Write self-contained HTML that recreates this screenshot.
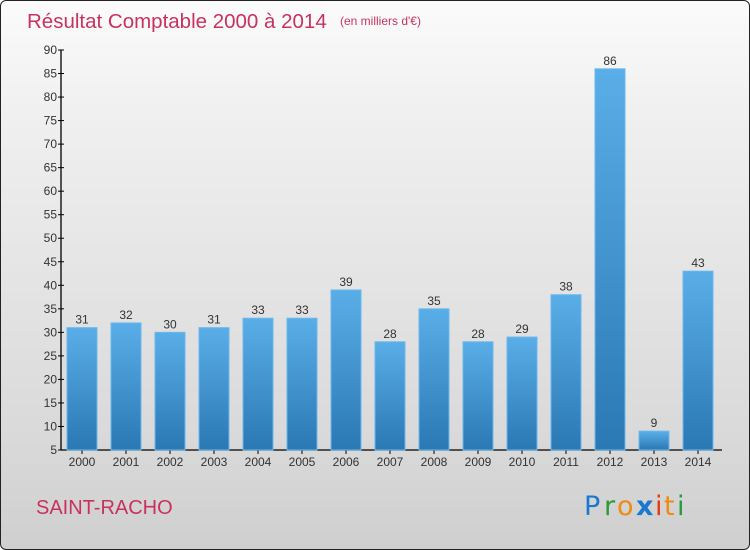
<!DOCTYPE html>
<html><head><meta charset="utf-8"><style>
body{margin:0;width:750px;height:550px;overflow:hidden;font-family:"Liberation Sans",sans-serif}
#frame{position:absolute;left:0;top:0;width:748px;height:548px;border:1px solid #222;border-radius:6px;background:linear-gradient(#fbfbfb,#f0f0f0 20%,#d9d9d9 80%,#cfcfcf)}
</style></head><body>
<div id="frame"></div>
<svg id="chart" width="750" height="550" style="position:absolute;left:0;top:0">
<defs><linearGradient id="bg" x1="0" y1="0" x2="0" y2="1"><stop offset="0" stop-color="#5aaee8"/><stop offset="1" stop-color="#2a78b4"/></linearGradient></defs>
<text x="27" y="28" font-size="20.5" fill="#c8325e">Résultat Comptable 2000 à 2014</text>
<text x="340" y="25" font-size="12" fill="#c8325e">(en milliers d'€)</text>
<text x="36" y="514" font-size="20" fill="#c8325e">SAINT-RACHO</text>
<g font-size="27" font-family="'DejaVu Sans',sans-serif">
<text x="584" y="515" fill="#1a78d0">P</text><text x="604" y="515" fill="#2a9a3a">r</text><text x="617" y="515" fill="#f08a10">o</text><text x="636" y="515" fill="#1a78d0" font-weight="bold">x</text><text x="655" y="515" fill="#e83a10">i</text><text x="664" y="515" fill="#f08a10">t</text><text x="677" y="515" fill="#2a9a3a">i</text>
</g>
<g id="axes"></g><g id="bars"></g>
</svg>
<script>
const years=["2000","2001","2002","2003","2004","2005","2006","2007","2008","2009","2010","2011","2012","2013","2014"];
const values=[31,32,30,31,33,33,39,28,35,28,29,38,86,9,43];
const yTicks=[5,10,15,20,25,30,35,40,45,50,55,60,65,70,75,80,85,90];
const NS="http://www.w3.org/2000/svg";
const x0=60,band=44,yTop=50,yBot=450,vMin=5,vMax=90;
function y(v){return yBot-(v-vMin)/(vMax-vMin)*(yBot-yTop);}
function xc(i){return x0+band*i+band/2;}
function mk(t,a,p){const e=document.createElementNS(NS,t);for(const k in a)e.setAttribute(k,a[k]);p.appendChild(e);return e;}
const ax=document.getElementById('axes'),bs=document.getElementById('bars');
const yl=mk('line',{x1:61,y1:yTop,x2:61,y2:yBot,stroke:'#000','stroke-width':1.3},ax);


const xl=mk('line',{x1:61,y1:yBot,x2:722,y2:yBot,stroke:'#000','stroke-width':1.3},ax);


yTicks.forEach(t=>{
 mk('line',{x1:58,y1:y(t),x2:64,y2:y(t),stroke:'#000'},ax);
 const l=mk('text',{x:57,y:y(t)+4,'font-size':12,'text-anchor':'end',fill:'#333'},ax);l.textContent=t;
 
 
});
years.forEach((yr,i)=>{
 mk('line',{x1:xc(i),y1:yBot,x2:xc(i),y2:yBot+4,stroke:'#000'},ax);
 const l=mk('text',{x:xc(i),y:466,'font-size':12,'text-anchor':'middle',fill:'#333'},ax);l.textContent=yr;
 
 
 const v=values[i];
 const r=mk('rect',{x:xc(i)-15,y:y(v),width:30,height:yBot-y(v),fill:'url(#bg)',stroke:'#6ab8ee','stroke-width':1},bs);
 
 
 const t=mk('text',{x:xc(i),y:y(v)-4,'font-size':12,'text-anchor':'middle',fill:'#333'},bs);t.textContent=v;
 
 
});
</script>
</body></html>
